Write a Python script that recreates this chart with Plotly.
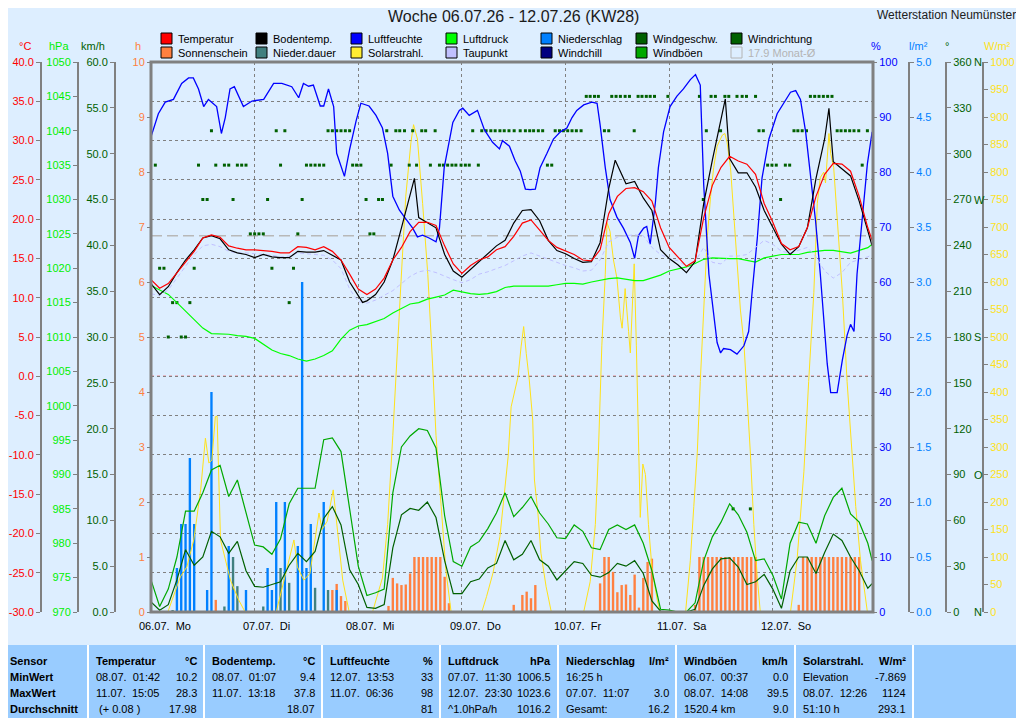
import pandas as pd
import plotly.graph_objects as go

start = pd.Timestamp("2026-07-06 00:00")
end_hours = 167.2

# 2-stündliche Werte (h ab 06.07. 00:00)
grid_hours = list(range(0, 167, 2)) + [167]

temperatur = [
    12.3, 11.2, 11.8, 13.2, 14.5, 15.9, 17.6, 18.0, 17.7, 16.6, 16.3, 16.1,
    16.1, 16.0, 15.9, 15.7, 15.7, 16.5, 16.4, 16.1, 16.5, 15.9, 14.8, 13.0,
    11.1, 10.4, 11.1, 12.5, 14.8, 16.4, 18.4, 19.6, 19.6, 19.2, 16.6, 14.3,
    13.1, 14.1, 14.8, 15.2, 16.1, 16.5, 17.8, 19.5, 19.9, 18.6, 17.3, 16.4,
    15.9, 15.5, 14.8, 14.7, 16.1, 20.7, 22.9, 23.9, 24.0, 23.5, 22.3, 18.9,
    16.4, 15.2, 14.0, 14.7, 20.2, 24.3, 26.6, 28.0, 27.4, 27.0, 25.7, 22.0,
    19.6, 16.9, 16.1, 16.5, 18.9, 22.9, 25.7, 27.1, 27.0, 26.1, 22.9, 18.9,
    17.3]
taupunkt = [
    10.5, 10.3, 11.0, 12.5, 14.0, 15.5, 16.6, 16.8, 16.5, 15.9, 15.7, 15.7,
    15.6, 15.5, 15.4, 15.2, 15.3, 15.7, 15.6, 15.5, 15.4, 14.8, 13.7, 11.1,
    9.5, 9.3, 9.7, 10.3, 10.9, 11.8, 12.7, 13.3, 13.5, 13.2, 12.7, 12.3,
    11.9, 12.3, 13.0, 13.3, 13.7, 14.1, 14.7, 15.3, 15.7, 15.3, 14.9, 14.4,
    14.1, 13.8, 13.4, 13.5, 14.8, 17.1, 17.7, 17.9, 18.0, 17.9, 16.4, 15.5,
    15.0, 14.7, 14.0, 14.6, 16.4, 14.5, 14.3, 15.3, 15.3, 15.5, 16.4, 17.3,
    16.8, 15.9, 15.7, 16.1, 16.4, 15.2, 13.4, 12.5, 13.2, 14.5, 14.8, 15.2,
    15.5]
luftdruck = [
    1017.5, 1016.8, 1016.2, 1015.0, 1013.8, 1012.5, 1011.3, 1010.5, 1010.5, 1010.4, 1010.2, 1010.1,
    1009.8, 1009.0, 1008.1, 1007.6, 1007.3, 1006.8, 1006.5, 1006.8, 1007.3, 1008.0, 1009.7, 1011.0,
    1011.6, 1011.8, 1012.2, 1012.7, 1013.5, 1014.2, 1014.8, 1015.0, 1015.5, 1015.8, 1016.1, 1016.8,
    1016.5, 1016.3, 1016.2, 1016.3, 1016.6, 1017.2, 1017.4, 1017.4, 1017.4, 1017.4, 1017.4, 1017.6,
    1017.8, 1017.8, 1017.7, 1018.0, 1018.3, 1018.5, 1018.6, 1018.4, 1018.2, 1018.2, 1018.6, 1019.0,
    1019.6, 1019.9, 1020.2, 1020.7, 1021.3, 1021.5, 1021.4, 1021.4, 1021.4, 1021.2, 1020.9, 1021.5,
    1021.8, 1022.0, 1022.0, 1022.0, 1022.3, 1022.5, 1022.6, 1022.6, 1022.4, 1022.2, 1022.6, 1023.0,
    1023.5]
windboeen = [
    3.5, 0.6, 2.5, 6.0, 11.0, 11.0, 13.0, 15.5, 16.0, 12.6, 14.4, 11.0,
    7.3, 7.1, 6.3, 8.0, 11.8, 13.5, 13.5, 13.5, 18.8, 19.0, 17.5, 11.5,
    5.0, 1.8, 2.1, 2.5, 13.0, 18.0, 19.2, 20.0, 19.8, 17.9, 10.5, 5.5,
    5.0, 7.1, 7.7, 9.1, 10.8, 13.0, 10.4, 11.4, 12.6, 10.8, 9.6, 8.1,
    8.0, 9.5, 8.8, 7.0, 6.8, 9.0, 9.5, 9.0, 9.5, 7.5, 4.5, 0.3,
    0.2, 0.0, 0.0, 1.0, 5.6, 8.2, 9.8, 11.8, 10.6, 8.7, 5.6, 5.8,
    4.0, 1.4, 7.5, 9.8, 9.6, 7.5, 10.5, 12.5, 13.5, 10.7, 9.8, 7.5,
    5.6]
windgeschw = [
    1.1, 0.2, 0.8, 3.5, 6.8, 5.1, 6.0, 8.8, 8.2, 6.4, 7.7, 4.5,
    2.8, 2.7, 3.0, 3.3, 5.1, 6.4, 5.5, 6.6, 10.2, 11.5, 9.5, 4.6,
    3.0, 0.5, 0.4, 0.8, 7.0, 10.6, 11.3, 11.1, 12.0, 10.3, 5.6, 2.0,
    2.0, 3.3, 3.6, 4.8, 5.3, 7.8, 5.7, 6.3, 7.8, 5.7, 5.0, 3.5,
    4.5, 5.5, 5.3, 4.0, 3.8, 4.3, 5.3, 5.0, 5.6, 4.2, 1.2, 0.1,
    0.0, 0.0, 0.0, 0.3, 2.9, 4.7, 5.8, 5.9, 4.9, 3.0, 3.3, 4.1,
    2.5, 0.4, 4.5, 6.0, 6.0, 4.2, 6.5, 8.5, 7.8, 6.0, 4.5, 2.6,
    3.1]

boden_hours = [
    0, 2, 4, 6, 8, 10, 12, 14, 16, 18, 20, 22, 24, 26, 28, 30, 32, 34, 36, 38, 40, 42, 44, 46,
    48, 49, 50, 52, 54, 56, 58, 60, 61, 62, 64, 66, 68, 70, 72, 74, 76, 78, 80, 82, 84, 86, 88, 90,
    92, 94, 96, 98, 100, 102, 104, 106, 107.5, 110, 112, 114, 116, 118, 120, 122, 124, 126, 128, 130,
    132, 133, 134, 136, 138, 140, 142, 144, 146, 148, 150, 152, 154, 156, 157, 158, 160, 162, 164, 166, 167]
bodentemp = [
    11.8, 10.4, 11.4, 13.2, 14.8, 16.1, 17.6, 17.9, 17.5, 16.1, 15.7, 15.5, 15.1, 15.5, 15.2, 15.1, 15.1, 15.9, 15.8, 15.8, 16.0, 15.4, 14.8, 12.0,
    10.2, 9.4, 9.6, 10.4, 12.0, 14.8, 18.9, 22.9, 25.2, 20.2, 19.5, 18.9, 15.5, 13.4, 12.6, 13.6, 14.5, 15.5, 16.6, 17.3, 19.5, 21.1, 21.2, 19.8,
    17.3, 16.0, 15.6, 15.0, 14.5, 14.6, 17.0, 23.9, 27.5, 24.5, 24.8, 22.7, 21.1, 16.1, 15.0, 14.2, 13.2, 14.6, 22.0, 27.5,
    32.7, 35.3, 27.7, 25.9, 25.9, 24.1, 21.1, 18.9, 16.8, 15.5, 16.5, 18.9, 25.2, 30.2, 34.1, 27.3, 26.4, 25.5, 22.3, 18.6, 16.6]

feuchte_hours = [
    0, 1.7, 3.3, 5.2, 7.1, 8.7, 9.8, 11.0, 12.2, 13.3, 15.2, 16.3, 17.2, 18.3, 19.3, 21.4, 23.4, 26.1, 28.4, 30.3,
    32.6, 34.2, 35.3, 36.5, 37.6, 39.2, 40.0, 41.1, 42.3, 43.0, 44.8, 46.0, 47.5, 48.6, 50.5, 52.1, 53.6, 54.8, 56.0, 57.5,
    58.7, 60.6, 61.7, 62.9, 64.4, 66.0, 66.8, 67.9, 69.9, 71.4, 72.2, 73.7, 75.6, 77.2, 79.1, 80.7, 81.4, 83.0, 84.3, 85.5,
    86.7, 87.8, 89.0, 90.1, 91.7, 93.2, 94.8, 96.3, 97.5, 98.6, 100.2, 102.1, 103.3, 104.0, 105.2, 106.3, 107.9, 109.4, 111.0, 112.0,
    112.9, 114.1, 114.8, 115.6, 116.8, 117.5, 118.7, 120.2, 121.8, 123.3, 124.9, 126.1, 127.2, 128.0, 129.2, 130.3, 131.1, 131.9, 132.6, 134.2,
    135.7, 137.3, 138.4, 139.2, 140.4, 141.5, 143.1, 145.0, 146.5, 148.1, 149.3, 150.4, 151.6, 152.7, 153.9, 155.0, 155.8, 156.6, 157.4, 158.9,
    160.1, 161.2, 162.0, 162.8, 163.5, 164.7, 165.9, 167.0]
luftfeuchte = [
    86.4, 90.6, 92.7, 93.2, 96.1, 97.1, 97.1, 95.1, 91.9, 93.2, 91.9, 87.0, 89.9, 95.1, 95.5, 91.9, 92.9, 93.2, 96.1, 96.1,
    95.5, 93.5, 96.1, 95.6, 95.8, 92.0, 92.0, 95.1, 91.9, 83.4, 79.2, 84.1, 89.3, 92.5, 92.0, 90.3, 88.0, 83.4, 75.6, 73.1,
    71.8, 69.8, 68.2, 68.5, 68.0, 67.3, 69.8, 80.8, 89.0, 91.2, 91.6, 90.3, 91.2, 87.7, 85.4, 84.2, 85.7, 84.7, 82.1, 80.2,
    76.9, 76.8, 76.9, 80.8, 83.4, 86.0, 87.3, 88.0, 89.9, 91.2, 92.2, 92.7, 92.5, 88.6, 80.8, 75.0, 71.8, 69.8, 67.2, 64.3,
    68.5, 69.8, 70.1, 66.9, 74.4, 80.8, 87.3, 91.9, 93.8, 95.1, 96.8, 97.7, 95.8, 77.6, 61.4, 53.6, 49.0, 47.1, 47.9, 47.7,
    46.9, 48.4, 51.0, 58.1, 67.9, 78.9, 86.0, 90.6, 92.5, 94.5, 94.8, 93.2, 87.3, 79.5, 71.1, 61.4, 53.6, 45.1, 39.9, 39.9,
    45.8, 50.3, 52.3, 51.0, 61.4, 71.1, 81.5, 87.3]

solar_hours = [
    3.9, 6.8, 8.3, 9.9, 11.5, 12.6, 13.4, 14.1, 14.9, 15.3, 16.1, 18.4, 20.3, 21.8,
    29.0, 30.8, 33.1, 33.9, 35.4, 36.8, 38.9, 39.6, 40.8, 42.2, 43.2, 44.4, 45.9,
    51.3, 53.6, 54.8, 56.0, 57.1, 57.9, 59.0, 60.2, 60.8, 61.7, 62.9, 64.1, 65.2, 66.0, 67.2, 68.3, 69.5,
    76.6, 77.7, 79.2, 80.8, 81.9, 82.7, 83.4, 84.2, 85.0, 85.7, 86.3, 86.9, 87.6, 88.4, 88.8, 89.6, 90.3, 91.5, 92.7,
    100.2, 101.7, 102.9, 103.6, 104.4, 105.2, 105.6, 106.3, 107.1, 107.9, 108.7, 109.1, 109.8, 110.2, 110.6,
    111.0, 111.4, 111.9, 112.4, 112.9, 113.3, 113.9, 114.5, 115.2, 116.0, 117.2, 117.9,
    123.8, 124.9, 125.7, 126.5, 127.2, 128.0, 128.8, 129.6, 130.3, 131.1, 132.3, 132.9, 133.4, 134.2, 135.0,
    135.7, 136.5, 137.3, 138.1, 138.8, 139.6, 140.4, 141.1,
    148.1, 149.6, 151.2, 152.3, 153.5, 154.3, 155.0, 155.8, 156.2, 157.0, 157.4, 158.1, 159.3, 160.1, 161.2,
    162.0, 163.2, 164.3, 165.9]
solar = [
    0, 64, 82, 131, 222, 316, 271, 276, 355, 356, 131, 58, 22, 0,
    0, 58, 131, 82, 58, 70, 180, 150, 165, 222, 150, 58, 0,
    0, 62, 159, 321, 497, 601, 756, 854, 886, 860, 743, 614, 451, 321, 192, 75, 0,
    0, 28, 71, 137, 222, 282, 373, 398, 428, 482, 519, 470, 422, 349, 240, 180, 107, 46, 0,
    0, 55, 159, 289, 484, 614, 708, 692, 640, 607, 536, 516, 588, 555, 510,
    471, 549, 633, 484, 289, 172, 269, 250, 159, 81, 23, 0,
    0, 94, 192, 289, 419, 549, 679, 756, 808, 847, 867, 870, 854, 808, 724,
    640, 549, 490, 386, 289, 159, 62, 0,
    0, 94, 256, 419, 581, 743, 790, 800, 780, 870, 834, 808, 679, 581, 419,
    321, 192, 94, 0]

sonne_hours = [15, 42, 43, 44, 45,
               55, 56, 57, 58, 59, 60, 61, 62, 63, 64, 65, 66, 67, 68, 69,
               84, 86, 87, 88, 89,
               104, 105, 106, 107, 108, 109, 110, 111, 112, 113, 114, 115, 116,
               126, 127, 128, 129, 130, 131, 132, 133, 134, 135, 136, 137, 138, 139, 140,
               150, 151, 152, 153, 154, 155, 156, 157, 158, 159, 160, 161, 162, 163, 164]
sonnenschein = [0.22, 0.40, 0.51, 0.29, 0.20,
                0.11, 0.62, 0.52, 0.49, 0.50, 0.70, 1.0, 1.0, 1.0, 1.0, 1.0, 1.0, 1.0, 0.64, 0.16,
                0.13, 0.31, 0.37, 0.25, 0.49,
                0.52, 1.0, 1.0, 0.73, 0.36, 0.49, 0.50, 0.31, 0.68, 0.08, 0.62, 0.91, 0.97,
                0.13, 1.0, 1.0, 1.0, 1.0, 1.0, 1.0, 1.0, 1.0, 1.0, 1.0, 1.0, 1.0, 1.0, 1.0,
                0.13, 1.0, 1.0, 1.0, 1.0, 1.0, 1.0, 1.0, 1.0, 1.0, 1.0, 1.0, 1.0, 1.0, 1.0]

dauer_hours = [5, 17, 19, 20, 26, 30, 32, 38, 41]
niederdauer = [0.03, 0.10, 1.0, 0.47, 0.10, 0.80, 0.53, 0.44, 0.40]

regen_hours = [6, 7, 8, 9, 10, 13, 14, 18, 19, 22, 27, 28, 29, 31, 34, 35, 36, 37, 40, 43]
niederschlag = [0.40, 0.80, 0.80, 1.40, 0.80, 0.20, 2.00, 0.60, 0.20, 0.20,
                0.40, 0.20, 1.00, 1.00, 0.60, 3.00, 0.40, 0.80, 1.00, 0.20]

richtung_hours = [
    1, 2, 3, 4, 5, 6, 7, 8, 9, 10, 11, 12, 13, 14, 15, 17, 18, 19, 20, 21, 22, 23, 24, 25, 26,
    27, 28, 29, 30, 31, 32, 33, 34, 35, 36, 37, 38, 39, 40, 41, 42, 43, 44, 45, 46,
    46.7, 47.6, 48.6, 49.8, 50.7, 51.6, 52.7, 53.6, 54.6, 55.6, 56.7, 57.6, 58.7, 59.8, 60.6,
    61.5, 62.7, 63.6, 64.7, 65.8, 66.8, 67.7, 68.7, 69.7, 70.6, 71.8, 72.8, 73.7, 74.5, 75.8,
    76.6, 77.6, 78.7, 79.7, 80.8, 81.8, 82.9, 84.1, 85.5, 86.7, 87.7, 88.6, 89.7, 90.7, 91.8,
    92.8, 93.6, 94.6, 95.5, 96.5, 97.5, 98.5, 99.6, 100.8, 101.7, 102.7, 103.6, 105.0, 106.0,
    106.7, 107.7, 108.7, 109.8, 110.8, 111.9, 112.8, 113.7, 114.7, 115.6, 116.6, 119.7,
    127.0, 127.9, 128.6, 129.7, 130.7, 131.9, 132.9, 133.8, 134.8, 135.7, 136.9, 137.9, 138.8,
    140.0, 140.8, 141.8, 142.8, 143.8, 144.8, 145.8, 146.9, 147.9, 148.9, 149.8, 150.8, 151.8,
    152.7, 153.7, 154.7, 155.7, 156.7, 157.7, 158.9, 159.8, 160.8, 161.8, 162.8, 163.9, 164.7, 165.9]
windrichtung = [
    292.5, 225, 225, 180, 202.5, 202.5, 180, 180, 202.5, 225, 292.5, 270, 270, 315, 292.5, 292.5, 292.5,
    270, 292.5, 292.5, 292.5, 247.5, 247.5, 247.5, 247.5,
    270, 225, 315, 292.5, 315, 202.5, 225, 247.5, 270, 292.5, 292.5, 292.5, 292.5, 292.5, 315, 315, 315,
    315, 315, 315,
    292.5, 292.5, 292.5, 270, 247.5, 247.5, 270, 270, 315, 292.5, 315, 315, 315, 292.5, 315,
    292.5, 315, 315, 292.5, 315, 292.5, 292.5, 292.5, 292.5, 292.5, 292.5, 292.5, 292.5, 315, 292.5,
    315, 315, 315, 315, 315, 315, 315, 315, 315, 315, 315, 315, 315, 315, 292.5,
    292.5, 315, 315, 315, 315, 315, 315, 315, 337.5, 337.5, 337.5, 337.5, 315, 315,
    337.5, 337.5, 337.5, 337.5, 337.5, 315, 337.5, 337.5, 337.5, 337.5, 337.5, 337.5,
    337.5, 270, 315, 337.5, 337.5, 315, 337.5, 337.5, 67.5, 337.5, 337.5, 337.5, 67.5,
    337.5, 315, 315, 292.5, 292.5, 292.5, 270, 292.5, 292.5, 315, 315, 315, 315,
    337.5, 337.5, 337.5, 337.5, 337.5, 337.5, 315, 315, 315, 315, 315, 315, 292.5, 315]

monat_mittel = 17.9

day_labels = ["06.07.\u00a0 Mo", "07.07.\u00a0 Di", "08.07.\u00a0 Mi", "09.07.\u00a0 Do",
              "10.07.\u00a0 Fr", "11.07.\u00a0 Sa", "12.07.\u00a0 So"]

# Tabelle unten
tab_rows = ["Sensor", "MinWert", "MaxWert", "Durchschnitt"]
tab_heads = ["Temperatur", "Bodentemp.", "Luftfeuchte", "Luftdruck", "Niederschlag", "Windböen", "Solarstrahl."]
tab_units = ["°C", "°C", "%", "hPa", "l/m²", "km/h", "W/m²"]
tab_min_text = ["08.07.\u00a0 01:42", "08.07.\u00a0 01:07", "12.07.\u00a0 13:53", "07.07.\u00a0 11:30",
                "16:25 h", "06.07.\u00a0 00:37", "Elevation"]
tab_min_val = ["10.2", "9.4", "33", "1006.5", "", "0.0", "-7.869"]
tab_max_text = ["11.07.\u00a0 15:05", "11.07.\u00a0 13:18", "11.07.\u00a0 06:36", "12.07.\u00a0 23:30",
                "07.07.\u00a0 11:07", "08.07.\u00a0 14:08", "08.07.\u00a0 12:26"]
tab_max_val = ["28.3", "37.8", "98", "1023.6", "3.0", "39.5", "1124"]
tab_avg_text = ["\u00a0(+ 0.08 )", "", "", "^1.0hPa/h", "Gesamt:", "1520.4 km", "51:10 h"]
tab_avg_val = ["17.98", "18.07", "81", "1016.2", "16.2", "9.0", "293.1"]

for xs, ys in [(grid_hours, temperatur), (grid_hours, taupunkt), (grid_hours, luftdruck),
               (grid_hours, windboeen), (grid_hours, windgeschw), (boden_hours, bodentemp),
               (feuchte_hours, luftfeuchte), (solar_hours, solar), (sonne_hours, sonnenschein),
               (dauer_hours, niederdauer), (regen_hours, niederschlag), (richtung_hours, windrichtung)]:
    assert len(xs) == len(ys), (len(xs), len(ys))

# the page puts the figure 8px in from the top-left corner
OFF = 8
W, H = 1024 - OFF, 718 - OFF
FONT = "Liberation Sans, Arial, sans-serif"
BG = "#ddeeff"
GREY = "#808080"
RED = "#ff0000"
ORANGE = "#ff8040"
BLACK = "#000000"
TEAL = "#408080"
BLUE = "#0000ff"
YELLOW = "#ffe21a"
LIME = "#00ff00"
LAVENDER = "#c0c0ff"
RAIN = "#0080ff"
NAVY = "#000080"
DKGREEN = "#006000"
GREEN = "#00a800"


def px(x):
    return (x - OFF) / W


def py(y):
    return 1 - (y - OFF) / H


def ts(hours):
    return [start + pd.Timedelta(hours=h) for h in hours]


def label(text, x, y, size=11, color="#000000", xanchor="center", **kw):
    d = dict(text=text, x=px(x), y=py(y), xref="paper", yref="paper", xanchor=xanchor,
             yanchor="middle", showarrow=False, font=dict(family=FONT, size=size, color=color))
    d.update(kw)
    return d


bar_w = 0.55 * 3600 * 1000

fig = go.Figure()
fig.add_trace(go.Bar(x=ts(dauer_hours), y=niederdauer, yaxis="y", width=bar_w,
                     marker=dict(color=TEAL, line=dict(width=0))))
fig.add_trace(go.Bar(x=ts(sonne_hours), y=sonnenschein, yaxis="y", width=bar_w,
                     marker=dict(color=ORANGE, line=dict(width=0))))
fig.add_trace(go.Bar(x=ts(regen_hours), y=niederschlag, yaxis="y2", width=bar_w,
                     marker=dict(color=RAIN, line=dict(width=0))))
fig.add_trace(go.Scatter(x=ts(solar_hours), y=solar, yaxis="y3", mode="lines",
                         line=dict(color=YELLOW, width=1)))
fig.add_trace(go.Scatter(x=ts(richtung_hours), y=windrichtung, yaxis="y4", mode="markers",
                         marker=dict(symbol="square", size=3, color=DKGREEN, line=dict(width=0))))
fig.add_trace(go.Scatter(x=ts(grid_hours), y=windboeen, yaxis="y5", mode="lines",
                         line=dict(color=GREEN, width=1.2)))
fig.add_trace(go.Scatter(x=ts(grid_hours), y=windgeschw, yaxis="y5", mode="lines",
                         line=dict(color=DKGREEN, width=1.2)))
fig.add_trace(go.Scatter(x=ts(grid_hours), y=luftdruck, yaxis="y6", mode="lines",
                         line=dict(color=LIME, width=1.2)))
fig.add_trace(go.Scatter(x=ts(feuchte_hours), y=luftfeuchte, yaxis="y7", mode="lines",
                         line=dict(color=BLUE, width=1.3)))
fig.add_trace(go.Scatter(x=ts(grid_hours), y=taupunkt, yaxis="y8", mode="lines",
                         line=dict(color=LAVENDER, width=1, dash="4px,3px")))
fig.add_trace(go.Scatter(x=ts(boden_hours), y=bodentemp, yaxis="y8", mode="lines",
                         line=dict(color=BLACK, width=1.2)))
fig.add_trace(go.Scatter(x=ts(grid_hours), y=temperatur, yaxis="y8", mode="lines",
                         line=dict(color=RED, width=1.2)))

dom = [py(612), py(62)]


def yax(color, rng, dtick, **kw):
    d = dict(range=rng, dtick=dtick, tick0=rng[0], showgrid=False, zeroline=False,
             showline=True, linecolor=GREY, linewidth=2, ticks="outside", ticklen=4,
             tickcolor=GREY, tickfont=dict(family=FONT, size=11, color=color),
             automargin=False, fixedrange=True)
    d.update(kw)
    return d


temp_ticks = [-30, -25, -20, -15, -10, -5, 0, 5, 10, 15, 20, 25, 30, 35, 40]

fig.update_layout(
    width=W, height=H, margin=dict(l=0, r=0, t=0, b=0),
    paper_bgcolor=BG, plot_bgcolor=BG, showlegend=False, barmode="overlay",
    xaxis=dict(domain=[px(151), px(873)], type="date",
               range=[start, start + pd.Timedelta(hours=end_hours)],
               tickvals=[start + pd.Timedelta(days=d) for d in range(8)],
               showticklabels=False, ticks="", showgrid=True, gridcolor=GREY, gridwidth=1,
               griddash="3px,3px", zeroline=False, showline=False, fixedrange=True),
    yaxis=yax(ORANGE, [0, 10], 1, domain=dom, anchor="x", side="left", showline=False, ticklen=3),
    yaxis2=yax(RAIN, [0, 5], 0.5, overlaying="y", anchor="free", position=px(909), side="right",
               tickformat=".1f"),
    yaxis3=yax(YELLOW, [0, 1000], 50, overlaying="y", anchor="free", position=px(983), side="right"),
    yaxis4=yax(DKGREEN, [0, 360], 30, overlaying="y", anchor="free", position=px(946), side="right"),
    yaxis5=yax(DKGREEN, [0, 60], 5, overlaying="y", anchor="free", position=px(115), side="left",
               tickformat=".1f"),
    yaxis6=yax("#00ee00", [970, 1050], 5, overlaying="y", anchor="free", position=px(78), side="left"),
    yaxis7=yax(BLUE, [0, 100], 10, overlaying="y", anchor="x", side="right", showline=False, ticklen=3),
    yaxis8=yax(RED, [-30, 40], 5, overlaying="y", anchor="free", position=px(41), side="left",
               tickmode="array", tickvals=temp_ticks, ticktext=[f"{v:.1f}" for v in temp_ticks],
               showgrid=True, gridcolor=GREY, gridwidth=1, griddash="3px,3px"),
)

shapes = []
ann = []

# Referenzlinien
shapes.append(dict(type="line", xref="x domain", x0=0, x1=1, yref="y8", y0=0, y1=0,
                   line=dict(color=RED, width=1, dash="3px,3px"), layer="below"))
shapes.append(dict(type="line", xref="x domain", x0=0, x1=1, yref="y8", y0=monat_mittel, y1=monat_mittel,
                   line=dict(color="#b8b8b8", width=1.5, dash="11px,5px"), layer="below"))
# Rahmen
shapes.append(dict(type="rect", xref="paper", yref="paper", x0=px(151), x1=px(873), y0=py(612), y1=py(62),
                   line=dict(color=GREY, width=3), layer="above"))

# Titel
ann.append(label("Woche 06.07.26 - 12.07.26 (KW28)", 513, 17, size=16, color="#1a1a1a"))
ann.append(label("Wetterstation Neumünster", 1018, 15, size=12, color="#202020", xanchor="right"))

# Achseneinheiten
for txt, xc, col in [("°C", 25, RED), ("hPa", 59, "#00ee00"), ("km/h", 93, DKGREEN), ("h", 138, ORANGE),
                     ("%", 876, BLUE), ("l/m²", 918, RAIN), ("°", 947, DKGREEN), ("W/m²", 997, YELLOW)]:
    ann.append(label(txt, xc, 46, color=col))

# Himmelsrichtungen
for deg, letter in [(0, "N"), (90, "O"), (180, "S"), (270, "W"), (360, "N")]:
    ann.append(dict(text=letter, x=px(972), y=deg, xref="paper", yref="y4", xanchor="left", yanchor="middle",
                    showarrow=False, font=dict(family=FONT, size=11, color=DKGREEN)))

# Tagesbeschriftung
for d, lab in enumerate(day_labels):
    ann.append(dict(text=lab, x=start + pd.Timedelta(days=d), y=py(626), xref="x", yref="paper",
                    xanchor="left", yanchor="middle", xshift=-14, showarrow=False,
                    font=dict(family=FONT, size=11, color="#000000")))

# Legende
legend = [("Temperatur", RED), ("Sonnenschein", ORANGE), ("Bodentemp.", BLACK), ("Nieder.dauer", TEAL),
          ("Luftfeuchte", BLUE), ("Solarstrahl.", "#ffee33"), ("Luftdruck", LIME), ("Taupunkt", LAVENDER),
          ("Niederschlag", RAIN), ("Windchill", NAVY), ("Windgeschw.", DKGREEN), ("Windböen", GREEN),
          ("Windrichtung", DKGREEN), ("17.9 Monat-Ø", None)]
for i, (lab, col) in enumerate(legend):
    c, r = i // 2, i % 2
    x0 = 161 + 95 * c
    y0 = 33 + 14 * r
    shapes.append(dict(type="rect", xref="paper", yref="paper", x0=px(x0), x1=px(x0 + 11),
                       y0=py(y0 + 11), y1=py(y0),
                       fillcolor=col if col else "rgba(0,0,0,0)",
                       line=dict(color="#000000" if col else "#b4b4b4", width=1)))
    ann.append(label(lab, x0 + 15, y0 + 5.5, color="#000000" if col else "#b4b4b4", xanchor="left"))

# Tabelle
shapes.append(dict(type="rect", xref="paper", yref="paper", x0=0, x1=px(1020), y0=0, y1=py(645),
                   fillcolor="#99ccff", line=dict(width=0), layer="above"))
seps = [88, 204, 322, 440, 558, 676, 795, 913, 1020]
for s in seps[:-1]:
    shapes.append(dict(type="line", xref="paper", yref="paper", x0=px(s), x1=px(s), y0=0, y1=py(645),
                       line=dict(color="#ffffff", width=2), layer="above"))
row_y = [661, 677, 693, 709]
for r, lab in enumerate(tab_rows):
    ann.append(label(f"<b>{lab}</b>", 8, row_y[r], xanchor="left"))
cols = [tab_heads, tab_min_text, tab_max_text, tab_avg_text]
vals = [tab_units, tab_min_val, tab_max_val, tab_avg_val]
for i in range(7):
    lx = seps[i] + 6
    rx = seps[i + 1] - 5
    for r in range(4):
        lt = cols[r][i]
        rt = vals[r][i]
        if r == 0:
            lt = f"<b>{lt}</b>"
            rt = f"<b>{rt}</b>"
        if lt:
            ann.append(label(lt, lx, row_y[r], xanchor="left"))
        if rt:
            ann.append(label(rt, rx, row_y[r], xanchor="right"))

fig.update_layout(shapes=shapes, annotations=ann)
fig.write_html("out.html")
